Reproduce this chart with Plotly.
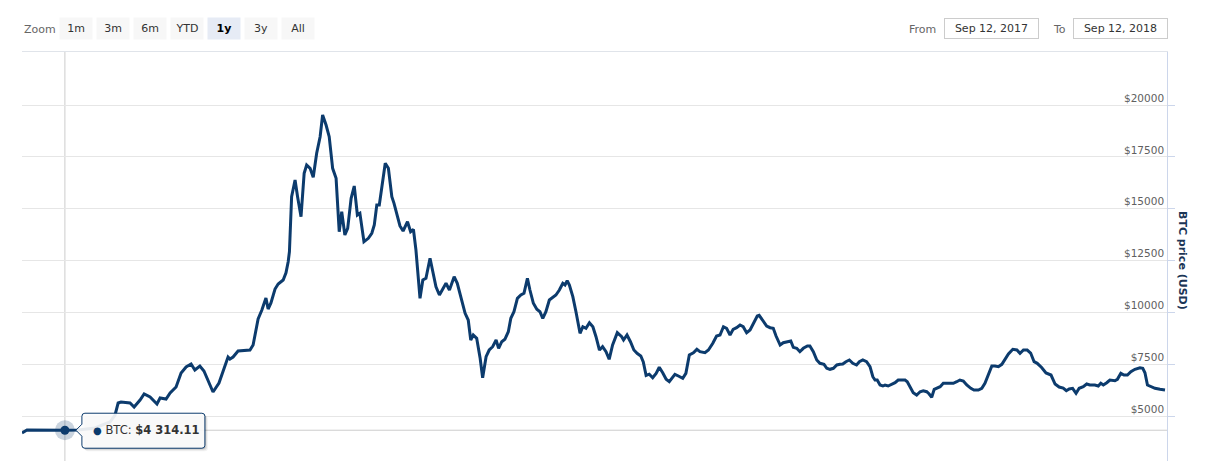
import pandas as pd
import plotly.graph_objects as go

# ---------------- data ----------------
start_date = "2017-09-12"
day_offsets = [
    0.0, 1.6, 13.7, 17.9, 23.3, 28.1, 29.7, 30.7, 31.6, 34.5, 35.8, 37.7, 39.0, 40.9, 43.1, 44.1,
    46.0, 47.3, 49.2, 50.8, 52.4, 54.0, 55.2, 56.8, 58.1, 60.0, 61.0, 62.9, 65.8, 66.4, 67.4, 69.0,
    71.2, 72.8, 73.8, 75.4, 76.6, 77.9, 78.6, 79.5, 80.8, 81.8, 83.4, 84.3, 85.0, 85.4, 86.1, 86.9,
    87.2, 88.0, 89.1, 90.1, 90.9, 92.0, 93.0, 94.1, 95.2, 96.0, 97.1, 98.1, 99.2, 100.3, 101.3, 102.1,
    103.1, 104.0, 105.1, 106.1, 107.1, 107.9, 109.2, 110.6, 111.7, 112.5, 113.3, 114.1, 115.2, 116.0,
    117.0, 118.1, 118.8, 119.7, 120.7, 121.7, 123.1, 124.1, 125.0, 125.8, 126.6, 127.1, 128.0, 129.0,
    130.3, 131.3, 132.2, 133.3, 134.3, 135.4, 136.5, 138.0, 139.0, 140.1, 141.5, 142.5, 143.3, 144.1,
    145.2, 146.3, 147.1, 148.2, 149.2, 150.3, 151.4, 152.2, 153.2, 154.2, 155.3, 156.1, 157.1, 158.2,
    159.3, 160.3, 161.4, 162.2, 163.3, 164.4, 165.4, 166.3, 167.3, 168.4, 169.5, 170.5, 171.6, 172.7,
    173.4, 174.1, 174.8, 175.9, 176.9, 178.2, 179.1, 180.1, 181.2, 182.3, 183.3, 184.4, 185.4, 186.5,
    187.5, 188.6, 190.1, 191.5, 192.1, 193.2, 194.3, 195.4, 196.5, 197.6, 198.4, 199.3, 200.3, 201.4,
    202.5, 203.5, 204.6, 205.7, 206.7, 207.8, 208.5, 209.6, 211.0, 212.0, 213.1, 214.4, 215.5, 216.5,
    218.1, 219.2, 220.6, 221.8, 222.9, 224.0, 225.0, 226.1, 227.1, 228.2, 229.3, 230.3, 231.4, 232.5,
    233.8, 234.8, 235.4, 236.5, 237.8, 238.9, 239.9, 240.8, 242.1, 243.1, 244.4, 245.5, 246.3, 247.4,
    248.4, 249.5, 250.8, 251.6, 252.7, 253.8, 254.8, 256.1, 257.0, 258.0, 259.1, 260.2, 261.2, 262.1,
    263.1, 264.2, 265.3, 266.5, 267.4, 268.5, 269.7, 270.8, 271.7, 272.4, 273.1, 274.0, 274.9, 275.6,
    276.6, 277.7, 278.8, 279.8, 280.9, 282.0, 282.7, 283.6, 284.6, 285.7, 286.8, 287.8, 288.9, 289.7,
    290.5, 291.3, 292.1, 293.2, 294.2, 295.3, 296.1, 297.4, 298.5, 299.5, 300.6, 301.7, 303.0, 304.0,
    305.4, 306.5, 307.5, 308.6, 309.7, 310.7, 311.8, 312.9, 313.9, 315.0, 316.4, 317.7, 318.7, 319.8,
    321.0, 322.1, 323.2, 324.2, 325.6, 327.0, 328.6, 329.9, 331.2, 332.5, 333.5, 334.4, 335.5, 336.6,
    337.6, 338.9, 340.0, 341.0, 342.6, 343.7, 344.5, 345.3, 346.4, 347.4, 349.0, 349.8, 350.9, 351.9,
    353.0, 354.1, 355.4, 357.0, 357.9, 358.6, 359.4, 360.2, 361.8, 363.4, 365.0,
]
btc_usd = [
    4180, 4325, 4314.11, 4325, 4421, 4711, 5048, 5627, 5675, 5627, 5434, 5772, 6061, 5916, 5579, 5868,
    5820, 6109, 6399, 7074, 7363, 7508, 7219, 7412, 7170, 6543, 6158, 6592, 7846, 7749, 7846, 8135,
    8183, 8183, 8424, 9678, 10112, 10691, 10161, 10450, 11125, 11366, 11559, 11911, 12442, 12924, 15577, 16223,
    16382, 15577, 14612, 16705, 17106, 16947, 16512, 17670, 18471, 19517, 19035, 18471, 16947, 16464, 13889, 14853,
    13730, 14053, 15500, 16093, 14694, 14776, 13406, 13570, 13812, 14212, 15177, 15177, 16382, 17188,
    16947, 15577, 15258, 14694, 14164, 13923, 14371, 13889, 13995, 13006, 11718, 10677, 11559, 11641,
    12606, 11882, 11236, 10836, 11077, 11400, 11077, 11718, 11400, 10754, 9953, 9630, 8665, 8907,
    8747, 7783, 6847, 7860, 8183, 8342, 8665, 8265, 8584, 8699, 9066, 9712, 10030, 10677,
    10836, 10918, 11641, 11077, 10436, 10146, 10030, 9712, 10030, 10595, 10725, 10836, 11077, 11400,
    11318, 11526, 11318, 10754, 10030, 8989, 9307, 9230, 9500, 9307, 8825, 8183, 8342, 8101,
    7735, 8424, 9018, 8825, 8665, 8907, 8584, 8183, 8014, 7894, 7604, 6953, 7016, 6847,
    7059, 7349, 7088, 6770, 6654, 6895, 7011, 6929, 6818, 7059, 7942, 8053, 8217, 8101,
    8053, 8183, 8506, 8858, 8907, 9307, 9230, 8907, 9182, 9259, 9389, 9307, 9018, 9148,
    9500, 9823, 9857, 9630, 9341, 9259, 9230, 8858, 8424, 8535, 8584, 8617, 8313, 8265,
    8101, 8265, 8376, 8376, 8101, 7701, 7542, 7493, 7301, 7252, 7301, 7460, 7493, 7508,
    7619, 7701, 7542, 7460, 7619, 7701, 7619, 7378, 6895, 6736, 6736, 6495, 6447, 6495,
    6447, 6543, 6606, 6736, 6736, 6736, 6654, 6384, 6124, 6013, 6172, 6220, 6172, 6061,
    5902, 6288, 6336, 6413, 6577, 6577, 6543, 6577, 6654, 6736, 6688, 6495, 6336, 6254,
    6254, 6336, 6577, 6977, 7412, 7412, 7378, 7493, 7701, 7990, 8217, 8183, 8024, 8183,
    8183, 8038, 7619, 7542, 7339, 7074, 6977, 6543, 6399, 6350, 6220, 6302, 6336, 6095,
    6336, 6413, 6543, 6495, 6495, 6447, 6577, 6495, 6606, 6736, 6703, 6770, 7059, 6977,
    6977, 7137, 7252, 7330, 7301, 7088, 6495, 6447, 6336, 6288, 6254,
]
series_name = "BTC"
hover_index = 2
y_tick_values = [5000, 7500, 10000, 12500, 15000, 17500, 20000]
y_tick_labels = [f"${v}" for v in y_tick_values]
y_range = [2830, 22556]
x_range_days = [0, 365.64]
zoom_buttons = ["1m", "3m", "6m", "YTD", "1y", "3y", "All"]
selected_button = "1y"
date_from_label = "Sep 12, 2017"
date_to_label = "Sep 12, 2018"
axis_title = "BTC price (USD)"

# ---------------- style ----------------
W, H = 1205, 461
L, R, T, B = 22, 38, 52, 0
NAVY = "#0c3b6d"
FONT = "DejaVu Sans"


def px(xp):
    return (xp - L) / (W - L - R)


def py(yp):
    return (H - B - yp) / (H - T - B)


base = pd.Timestamp(start_date)
dates = base + pd.to_timedelta(day_offsets, unit="D")
hover_date = dates[hover_index]
hover_price = btc_usd[hover_index]
hover_date_str = hover_date.isoformat()

fig = go.Figure()
fig.add_trace(go.Scatter(
    x=dates, y=btc_usd, mode="lines", name=series_name,
    line=dict(color=NAVY, width=3), hoverinfo="skip",
))
# hover halo + marker
fig.add_trace(go.Scatter(
    x=[hover_date], y=[hover_price], mode="markers",
    marker=dict(size=20, color="rgba(12,59,109,0.22)", line=dict(width=0)),
    hoverinfo="skip",
))
fig.add_trace(go.Scatter(
    x=[hover_date], y=[hover_price], mode="markers",
    marker=dict(size=9, color=NAVY, line=dict(width=0)),
    hoverinfo="skip",
))

shapes = []
# crosshairs
shapes.append(dict(type="line", xref="x", yref="paper", x0=hover_date_str, x1=hover_date_str,
                   y0=0, y1=1, line=dict(color="#cccccc", width=1), layer="below"))
shapes.append(dict(type="line", xref="paper", yref="y", x0=0, x1=1,
                   y0=hover_price, y1=hover_price, line=dict(color="#cccccc", width=1), layer="below"))


# tooltip box (pixel offsets relative to hovered point)
def tip_path(dx=0, dy=0):
    l, r, t, b = 17 + dx, 140 + dx, 17 + dy, -18 + dy
    return (f"M {l},{b+3} L {l},{dy-6} L {11+dx},{dy} L {l},{dy+6} L {l},{t-3} "
            f"Q {l},{t} {l+3},{t} L {r-3},{t} Q {r},{t} {r},{t-3} "
            f"L {r},{b+3} Q {r},{b} {r-3},{b} L {l+3},{b} Q {l},{b} {l},{b+3} Z")


for off, a in [(3, 0.05), (2, 0.08), (1, 0.12)]:
    shapes.append(dict(type="path", xref="x", yref="y", xsizemode="pixel", ysizemode="pixel",
                       xanchor=hover_date_str, yanchor=hover_price, path=tip_path(off, -off),
                       fillcolor=f"rgba(0,0,0,{a})", line=dict(width=0), layer="above"))
shapes.append(dict(type="path", xref="x", yref="y", xsizemode="pixel", ysizemode="pixel",
                   xanchor=hover_date_str, yanchor=hover_price, path=tip_path(),
                   fillcolor="rgba(255,255,255,0.9)", line=dict(color=NAVY, width=1), layer="above"))

annotations = []
price_text = f"${hover_price:,.2f}".replace(",", " ")
annotations.append(dict(
    x=hover_date_str, y=hover_price, xref="x", yref="y", xanchor="left", yanchor="middle",
    xshift=26, showarrow=False,
    text=f"<span style='color:{NAVY};font-size:10px'>●</span> {series_name}: <b>{price_text}</b>",
    font=dict(family=FONT, size=11.5, color="#333333"),
))

# range selector imitation
annotations.append(dict(x=px(22), y=py(29), xref="paper", yref="paper", xanchor="left",
                        yanchor="middle", showarrow=False, text="Zoom",
                        font=dict(family=FONT, size=11, color="#666666")))
for i, lab in enumerate(zoom_buttons):
    cx = 60 + 37 * i + 16
    sel = lab == selected_button
    annotations.append(dict(
        x=px(cx), y=py(28.5), xref="paper", yref="paper", xanchor="center", yanchor="middle",
        showarrow=False, text=f"<b>{lab}</b>" if sel else lab, width=32, height=21,
        bgcolor="#e6ebf5" if sel else "#f7f7f7", borderpad=0,
        font=dict(family=FONT, size=11, color="#000000" if sel else "#333333"),
    ))

annotations.append(dict(x=px(907), y=py(29), xref="paper", yref="paper", xanchor="left",
                        yanchor="middle", showarrow=False, text="From",
                        font=dict(family=FONT, size=11, color="#666666")))
annotations.append(dict(x=px(991), y=py(28.5), xref="paper", yref="paper", xanchor="center",
                        yanchor="middle", showarrow=False, text=date_from_label, width=93, height=19,
                        bgcolor="#ffffff", bordercolor="#cccccc", borderwidth=1, borderpad=0,
                        font=dict(family=FONT, size=11, color="#333333")))
annotations.append(dict(x=px(1051), y=py(29), xref="paper", yref="paper", xanchor="left",
                        yanchor="middle", showarrow=False, text="To",
                        font=dict(family=FONT, size=11, color="#666666")))
annotations.append(dict(x=px(1120), y=py(28.5), xref="paper", yref="paper", xanchor="center",
                        yanchor="middle", showarrow=False, text=date_to_label, width=93, height=19,
                        bgcolor="#ffffff", bordercolor="#cccccc", borderwidth=1, borderpad=0,
                        font=dict(family=FONT, size=11, color="#333333")))

# axis title
annotations.append(dict(x=px(1183), y=py(260), xref="paper", yref="paper", xanchor="center",
                        yanchor="middle", showarrow=False, textangle=90,
                        text=f"<b>{axis_title}</b>",
                        font=dict(family=FONT, size=11, color="#1b3556")))

x_range = [base + pd.Timedelta(days=d) for d in x_range_days]

fig.update_layout(
    width=W, height=H,
    margin=dict(l=L, r=R, t=T, b=B, pad=0),
    paper_bgcolor="white", plot_bgcolor="white",
    showlegend=False, hovermode=False,
    shapes=shapes, annotations=annotations,
    xaxis=dict(
        range=x_range, side="top", showgrid=False, zeroline=False, showticklabels=False,
        ticks="", showline=True, linecolor="#e0e4ea", linewidth=1,
    ),
    yaxis=dict(
        range=y_range, side="right", tickmode="array", tickvals=y_tick_values,
        ticktext=y_tick_labels,
        showgrid=True, gridcolor="#e6e6e6", gridwidth=1, zeroline=False,
        showline=True, linecolor="#ccd6eb", linewidth=1,
        ticks="outside", ticklen=7, tickcolor="#ccd6eb",
        ticklabelposition="inside", ticklabelstandoff=2, ticklabelshift=-7,
        tickfont=dict(family=FONT, size=10.5, color="#606060"),
    ),
)

fig.write_html(
    "out.html",
    config={"displayModeBar": False},
    post_script="document.body.style.margin='0';document.body.style.overflow='hidden';",
)
